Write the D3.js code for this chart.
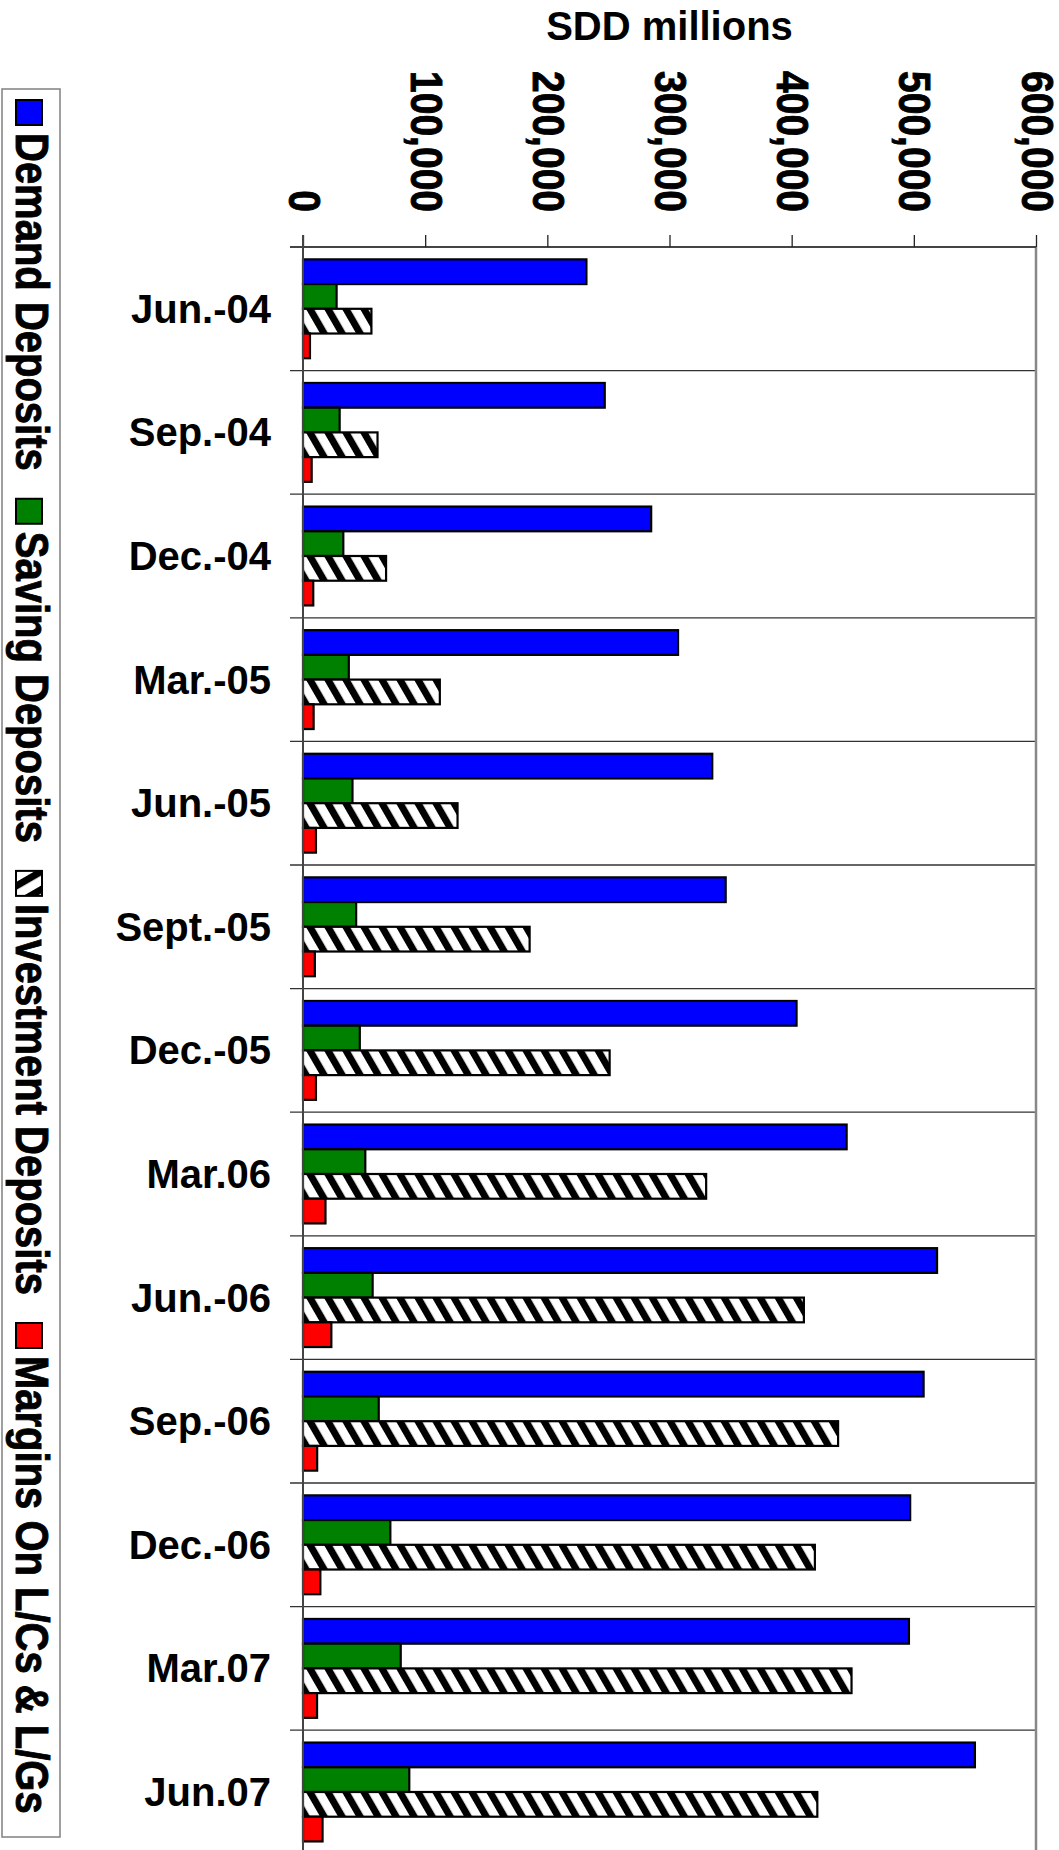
<!DOCTYPE html>
<html>
<head>
<meta charset="utf-8">
<script src="https://cdn.jsdelivr.net/npm/d3@7/dist/d3.min.js"></script>
<style>
  body { margin: 0; background: #fff; }
  svg text { font-family: "Liberation Sans", Arial, sans-serif; font-weight: bold; fill: #000; }
</style>
</head>
<body>
<svg id="chart" width="1059" height="1850"></svg>
<script>
const categories = ["Jun.-04", "Sep.-04", "Dec.-04", "Mar.-05", "Jun.-05", "Sept.-05", "Dec.-05",
  "Mar.06", "Jun.-06", "Sep.-06", "Dec.-06", "Mar.07", "Jun.07"];

const seriesNames = ["Demand Deposits", "Saving Deposits", "Investment Deposits", "Margins On L/Cs & L/Gs"];

const demandDeposits = [232000, 247000, 285000, 307000, 335000, 346000, 404000, 445000, 519000, 508000, 497000, 496000, 550000];
const savingDeposits = [27500, 30000, 33000, 37500, 40500, 43500, 46500, 51000, 57000, 62000, 71500, 80000, 87000];
const investmentDeposits = [56000, 61000, 68000, 112000, 126500, 185500, 251000, 330000, 410000, 438000, 419000, 449000, 421000];
const margins = [5700, 7100, 8400, 8700, 10600, 9700, 10600, 18400, 23200, 11600, 14200, 11500, 16000];

const tickValues = [0, 100000, 200000, 300000, 400000, 500000, 600000];

const seriesData = [demandDeposits, savingDeposits, investmentDeposits, margins];
const fills = ["#0000ff", "#008000", "url(#hatch)", "#ff0000"];

translate = function(a, b) {
  return "translate(" + a + ", " + b + ")";
}

const svg = d3.select("#chart");

// hatch pattern for investment deposits
const defs = svg.append("defs");
const pat = defs.append("pattern")
  .attr("id", "hatch")
  .attr("patternUnits", "userSpaceOnUse")
  .attr("width", 15.6)
  .attr("height", 15.6)
  .attr("patternTransform", "rotate(-30)");
pat.append("rect").attr("width", 15.6).attr("height", 15.6).attr("fill", "#fff");
pat.append("rect").attr("x", 0).attr("width", 7).attr("height", 15.6).attr("fill", "#000");

const plotLeft = 303, plotRight = 1036, plotTop = 247, rowStep = 123.6;

let x = d3.scaleLinear().domain([0, 600000]).range([plotLeft, plotRight]);
let y = d3.scaleBand().domain(categories).range([plotTop, plotTop + rowStep * categories.length]);
let y1 = d3.scaleBand().domain(seriesNames).range([0, y.bandwidth()]).paddingInner(0).paddingOuter(0.5);

// title
svg.append("text")
  .attr("x", (plotLeft + plotRight) / 2)
  .attr("y", 40)
  .attr("text-anchor", "middle")
  .style("font-size", "40px")
  .text("SDD millions");

// row separators
svg.append("g").selectAll("line")
  .data(categories.slice(1))
  .enter()
  .append("line")
  .attr("x1", plotLeft - 13)
  .attr("x2", plotRight)
  .attr("y1", d => y(d))
  .attr("y2", d => y(d))
  .attr("stroke", "#333")
  .attr("stroke-width", 1.3);

// right border
svg.append("line")
  .attr("x1", plotRight).attr("x2", plotRight)
  .attr("y1", plotTop).attr("y2", 1850)
  .attr("stroke", "#888")
  .attr("stroke-width", 2.5);

// bars
let rows = svg.selectAll("g.row")
  .data(categories)
  .enter()
  .append("g")
  .attr("class", "row")
  .attr("transform", d => translate(0, y(d)));

rows.selectAll("rect")
  .data((d, i) => seriesNames.map((s, j) => ({ s: s, j: j, v: seriesData[j][i] })))
  .enter()
  .append("rect")
  .attr("x", x(0))
  .attr("y", d => y1(d.s))
  .attr("width", d => x(d.v) - x(0))
  .attr("height", y1.bandwidth())
  .attr("fill", d => fills[d.j])
  .attr("stroke", "#000")
  .attr("stroke-width", 2.2);

// value axis on top
let xAxis = d3.axisTop(x).tickValues(tickValues).tickSize(12).tickFormat(d3.format(","));
let xGroup = svg.append("g").attr("transform", translate(0, plotTop)).call(xAxis);
xGroup.select(".domain").attr("stroke", "#444").attr("stroke-width", 2).attr("d", "M" + (plotLeft - 13) + ",0H" + plotRight);
xGroup.selectAll(".tick line").attr("stroke", "#222").attr("stroke-width", 1.3);
xGroup.selectAll(".tick text")
  .attr("x", 0).attr("y", 0).attr("dy", null)
  .attr("text-anchor", "end")
  .attr("transform", "translate(-15, " + (212 - plotTop) + ") rotate(90) scale(1, 1.12)")
  .attr("stroke", "#000")
  .attr("stroke-width", 0.8)
  .style("font-size", "39px")
  .style("font-family", "'Liberation Sans', Arial, sans-serif")
  .style("font-weight", "bold");

// category axis line
svg.append("line")
  .attr("x1", plotLeft).attr("x2", plotLeft)
  .attr("y1", plotTop - 12).attr("y2", 1850)
  .attr("stroke", "#444")
  .attr("stroke-width", 2);

// category labels
svg.append("g").selectAll("text")
  .data(categories)
  .enter()
  .append("text")
  .attr("x", 271)
  .attr("y", d => y(d) + y.bandwidth() / 2 + 14)
  .attr("text-anchor", "end")
  .style("font-size", "40px")
  .text(d => d);

// legend (rotated)
svg.append("rect")
  .attr("x", 2).attr("y", 89)
  .attr("width", 58).attr("height", 1748)
  .attr("fill", "none")
  .attr("stroke", "#808080")
  .attr("stroke-width", 1.5);

let legend = svg.append("g").attr("transform", translate(15, 0) + " rotate(90)");
let pos = 100;
seriesNames.forEach(function(s, j) {
  legend.append("rect")
    .attr("x", pos).attr("y", -27)
    .attr("width", 25).attr("height", 26)
    .attr("fill", fills[j])
    .attr("stroke", "#000")
    .attr("stroke-width", 2);
  let t = legend.append("text")
    .attr("transform", translate(pos + 33, -1) + " scale(1, 1.15)")
    .attr("stroke", "#000")
    .attr("stroke-width", 0.8)
    .style("font-size", "40px")
    .style("font-weight", "bold")
    .text(s);
  pos = pos + 33 + t.node().getComputedTextLength() + 28;
});
</script>
</body>
</html>
